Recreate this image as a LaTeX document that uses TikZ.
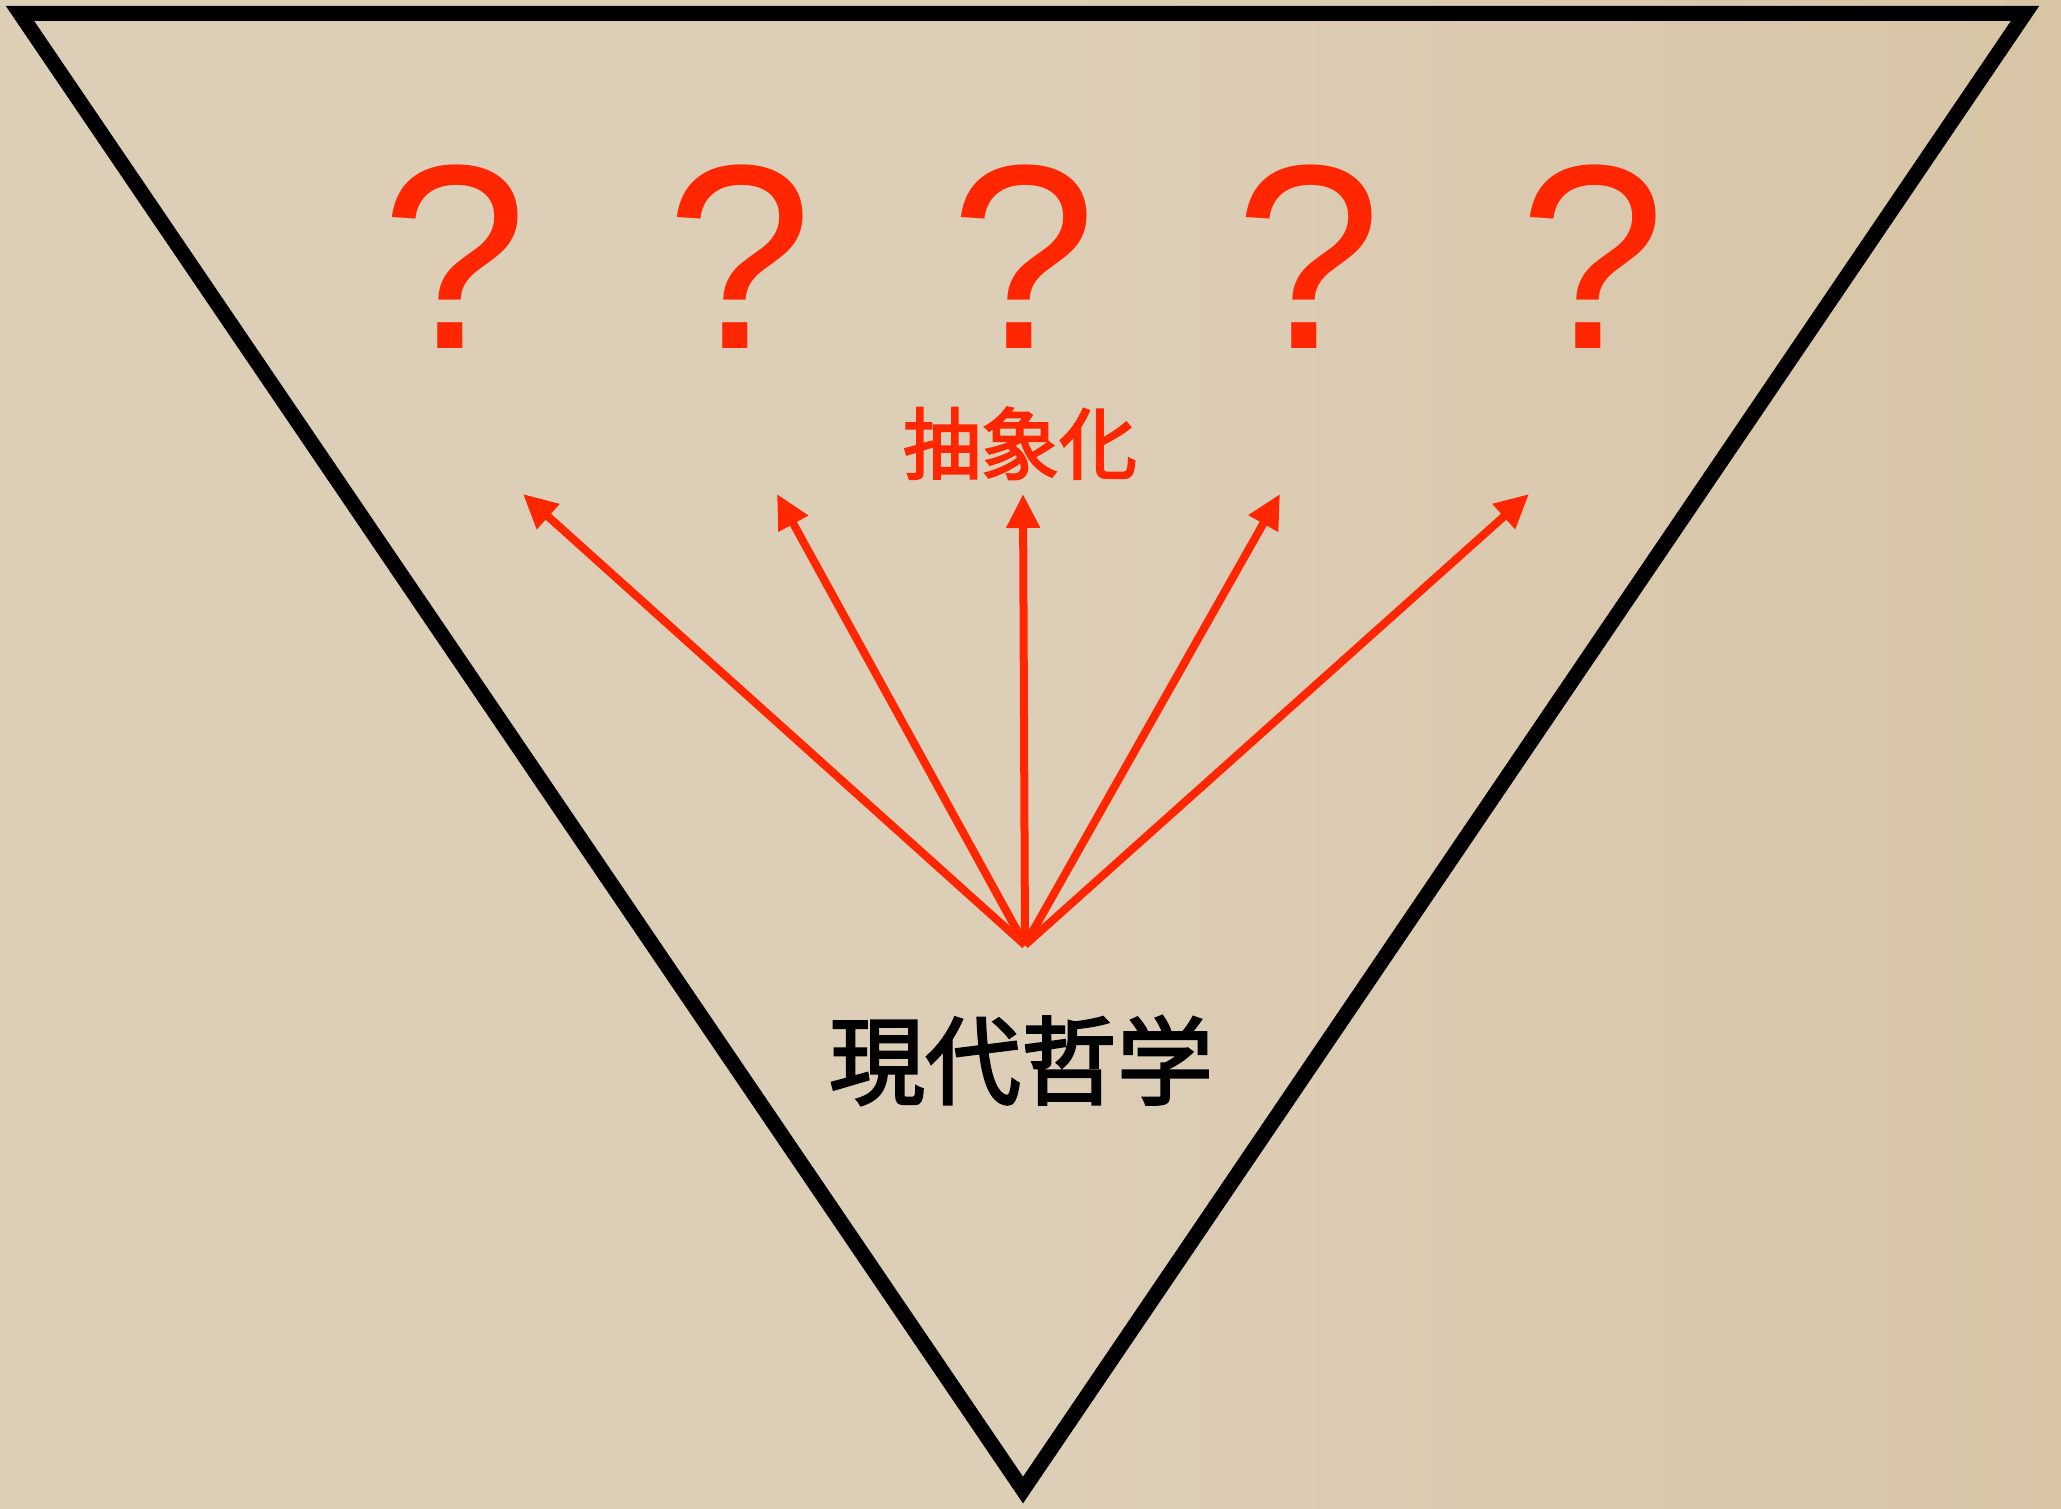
\documentclass[tikz,border=0pt]{standalone}
\usepackage{fontspec}
\setmainfont{Liberation Sans}
\newfontfamily\cjk[FakeBold=2.5]{Noto Sans CJK JP}
\usetikzlibrary{arrows.meta}
\definecolor{paper}{RGB}{221,206,184}
\definecolor{paperdark}{RGB}{216,197,166}
\definecolor{kred}{RGB}{255,38,0}
\tikzset{
  frame/.style={line width=15pt, line join=miter, draw=black},
  qmark/.style={text=kred, font=\fontsize{263}{263}\selectfont, anchor=base, inner sep=0pt},
  redlabel/.style={text=kred, font=\cjk\fontsize{78}{78}\selectfont, anchor=base, inner sep=0pt},
  blacklabel/.style={text=black, font=\cjk\fontsize{96}{96}\selectfont, anchor=base, inner sep=0pt},
  ray/.style={draw=kred, line width=8pt, -{Triangle[length=34pt,width=32pt]}}
}
\begin{document}
\begin{tikzpicture}[x=1pt,y=-1pt]
  \shade[left color=paper, right color=paperdark, middle color=paper] (0,0) rectangle (2061,1509);
  \useasboundingbox (0,0) rectangle (2061,1509);
  % frame triangle
  \coordinate (tl) at (20,13.5);
  \coordinate (tr) at (2025,13.5);
  \coordinate (ap) at (1023,1490);
  \draw[frame] (tl) -- (tr) -- (ap) -- cycle;
  % question marks
  \node[qmark] (q1) at (455,348) {?};
  \node[qmark] (q2) at (739.5,348) {?};
  \node[qmark] (q3) at (1024,348) {?};
  \node[qmark] (q4) at (1308.5,348) {?};
  \node[qmark] (q5) at (1593,348) {?};
  % labels
  \node[redlabel] (abs) at (1020,473) {抽象化};
  \node[blacklabel] (mod) at (1021,1097) {現代哲学};
  % arrows
  \coordinate (src) at (1025,945);
  \coordinate (t1) at (523,494);
  \coordinate (t2) at (777,494);
  \coordinate (t3) at (1023,494);
  \coordinate (t4) at (1280,494);
  \coordinate (t5) at (1529,494);
  \foreach \t in {t1,t2,t3,t4,t5}
    \draw[ray] (src) -- (\t);
\end{tikzpicture}
\end{document}
